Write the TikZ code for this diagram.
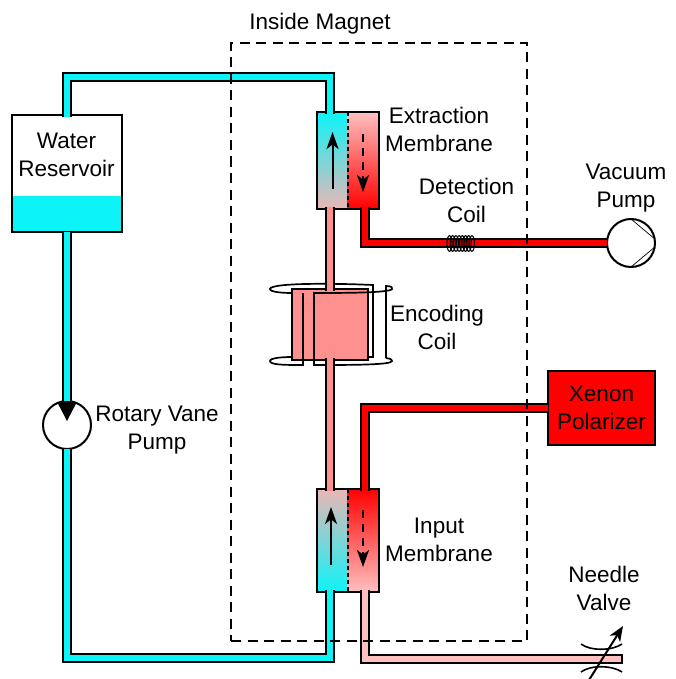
\documentclass[tikz,border=0pt]{standalone}
\usepackage{fontspec}
\setmainfont{Liberation Sans}
\usetikzlibrary{arrows.meta}

\definecolor{water}{HTML}{0CF4F8}
\definecolor{mixed}{HTML}{FF9090}
\definecolor{faded}{HTML}{FFC0C0}
\definecolor{xenon}{HTML}{FF0000}

\tikzset{
  label text/.style={align=center, font=\fontsize{22.5}{28}\selectfont},
  pipe/.style={line width=2pt, double=#1, double distance=5.4pt},
  open start/.style={shorten <=-1.6pt},
  open end/.style={shorten >=-1.6pt},
  halfbox/.style={inner sep=0pt, outer sep=0pt, minimum width=31pt},
  plainbox/.style={draw, line width=2pt, inner sep=0pt, outer sep=0pt},
  pump/.style={circle, draw, line width=2pt, fill=white, inner sep=0pt, outer sep=0pt, minimum size=48pt},
  flow/.style={line width=2pt, -{Stealth[length=17pt,width=12pt,inset=4.5pt]}},
  wire/.style={line width=1.7pt},
  divider/.style={line width=2pt, dash pattern=on 4pt off 3pt},
  shell/.style={line width=2pt, line join=miter},
}

\begin{document}
\begin{tikzpicture}[x=1pt, y=-1pt]
    \useasboundingbox (0,0) rectangle (675,679);

    %encoding coil, back part
    \draw[wire] (368,357) -- (373,357) -- (373,285) .. controls (330,283) and (270,283) .. (270,289)
        .. controls (270,292) and (282,293) .. (292,293);

    %boxes
    \node[plainbox, fill=white, minimum width=110pt, minimum height=117pt] (reservoir) at (67,173.5) {};
    \fill[water] (13,196) rectangle (121,231);
    \node[plainbox, fill=mixed, minimum width=76pt, minimum height=71pt] (encoding) at (330,324.5) {};
    \node[plainbox, fill=xenon, minimum width=107pt, minimum height=74pt] (polarizer) at (601.5,408) {};

    %encoding coil, front part
    \draw[wire] (303,293) -- (303,365)
        .. controls (285,365) and (270,365) .. (270,361) .. controls (270,358) and (282,357) .. (292,357);
    \draw[wire] (386,358) -- (386,286) .. controls (392,286) and (393,288) .. (392,289)
        .. controls (390,293) and (340,293) .. (314,293) -- (314,365)
        .. controls (350,365) and (392,365) .. (392,361) .. controls (392,359) and (388,358) .. (386,358);

    %membranes
    \node[halfbox, minimum height=97pt, top color=water, bottom color=faded!85!gray] (extractL) at (332.5,160.5) {};
    \node[halfbox, minimum height=97pt, top color=faded, bottom color=xenon] (extractR) at (363,160.5) {};
    \node[halfbox, minimum height=103pt, top color=faded!85!gray, bottom color=water] (inputL) at (332.5,540.5) {};
    \node[halfbox, minimum height=103pt, top color=xenon, bottom color=faded] (inputR) at (363,540.5) {};
    \draw[shell] (extractR.north west) -- (extractL.north west) -- (extractL.south west) -- (extractR.south west);
    \draw[shell] (extractR.north west) -- (extractR.north east) -- (extractR.south east) -- (extractR.south west);
    \draw[shell] (inputR.north west) -- (inputL.north west) -- (inputL.south west) -- (inputR.south west);
    \draw[shell] (inputR.north west) -- (inputR.north east) -- (inputR.south east) -- (inputR.south west);
    \draw[divider] (extractR.north west) -- (extractR.south west);
    \draw[divider] (inputR.north west) -- (inputR.south west);

    %pumps
    \node[pump] (vacuumPump) at (631,243) {};
    \node[pump] (rotaryPump) at (67,425) {};
    \draw[line width=.7pt] (vacuumPump.north) -- (vacuumPump.10);
    \draw[line width=.7pt] (vacuumPump.south) -- (vacuumPump.-10);
    \fill (rotaryPump.113) to[bend left=12] (rotaryPump.67) -- ([yshift=4pt]rotaryPump.center) -- cycle;

    %water loop
    \draw[pipe=water, open start, open end] (reservoir.north) -- (67,77) -- (330,77) -- ([xshift=-2.5pt]extractL.north);
    \draw[pipe=water] (reservoir.south) -- (rotaryPump.north);
    \draw[pipe=water, open end] (rotaryPump.south) -- (67,658) -- (330,658) -- ([xshift=-2.5pt]inputL.south);
    \draw[pipe=mixed, open start, open end] ([xshift=-2.5pt]extractL.south) -- (330,289);
    \draw[pipe=mixed, open start, open end] (330,360) -- ([xshift=-2.5pt]inputL.north);

    %gas lines
    \coordinate (needleEnd) at (622,659);
    \draw[pipe=xenon, open start] ([xshift=2pt]extractR.south) -- (365,243) -- (vacuumPump.west);
    \draw[pipe=xenon, open end] (polarizer.west) -- (365,408) -- ([xshift=2pt]inputR.north);
    \draw[pipe=faded, open start] ([xshift=2pt]inputR.south) -- (365,659) -- (needleEnd);
    \draw[line width=2pt] ([yshift=4.7pt]needleEnd) -- ([yshift=-4.7pt]needleEnd);

    %flow direction
    \coordinate (upA) at (332.5,189);
    \coordinate (upB) at (332.5,132);
    \coordinate (downA) at (363,134);
    \coordinate (downB) at (363,192);
    \coordinate (upC) at (331,565);
    \coordinate (upD) at (331,507);
    \coordinate (downC) at (363,510);
    \coordinate (downD) at (363,567);
    \draw[flow] (upA) -- (upB);
    \draw[flow, dash pattern=on 8pt off 6pt] (downA) -- (downB);
    \draw[flow] (upC) -- (upD);
    \draw[flow, dash pattern=on 8pt off 6pt] (downC) -- (downD);

    %detection coil
    \foreach \i in {449.5,452.7,...,473}
        \draw[line width=1.1pt] (\i,243.5) ellipse (2.6pt and 7.8pt);

    %needle valve
    \coordinate (valveA) at (589,680);
    \coordinate (valveB) at (623,626);
    \draw[line width=1.6pt] (581,644) .. controls (590,651) and (612,651) .. (622,644);
    \draw[line width=1.6pt] (581,672) .. controls (590,665) and (612,665) .. (622,672);
    \draw[line width=2pt, -{Stealth[length=15pt,width=12pt,inset=4pt]}] (valveA) -- (valveB);

    %magnet outline
    \node[draw, line width=1.7pt, dash pattern=on 10pt off 6.5pt, inner sep=0pt, minimum width=296pt, minimum height=598pt] (magnet) at (379,342) {};

    %labels
    \node[label text] (magnetText) at (320,24) {Inside Magnet};
    \node[label text] (reservoirText) at (66.5,155) {Water\\Reservoir};
    \node[label text] (rotaryText) at (157,430) {Rotary Vane\\Pump};
    \node[label text] (extractText) at (439,129) {Extraction\\Membrane};
    \node[label text] (detectText) at (466.5,200) {Detection\\Coil};
    \node[label text] (vacuumText) at (626,188) {Vacuum\\Pump};
    \node[label text] (encodingText) at (437,327) {Encoding\\Coil};
    \node[label text] (polarizerText) at (601.5,408) {Xenon\\Polarizer};
    \node[label text] (inputText) at (439,540) {Input\\Membrane};
    \node[label text] (needleText) at (604,588) {Needle\\Valve};
\end{tikzpicture}
\end{document}
